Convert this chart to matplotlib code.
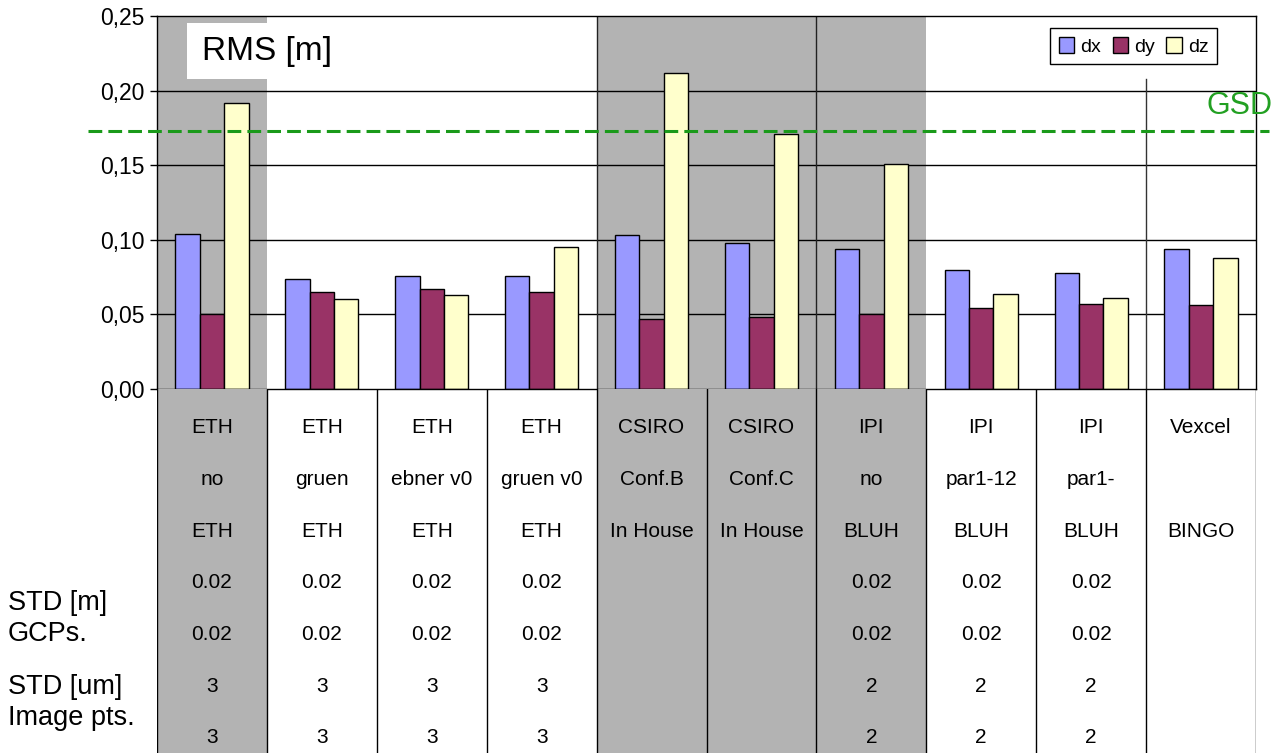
import numpy as np
import matplotlib.pyplot as plt
from matplotlib.ticker import FuncFormatter
from matplotlib.patches import Rectangle

plt.rcParams['font.family'] = ['Liberation Sans', 'DejaVu Sans']

# data
series = ['dx', 'dy', 'dz']
dx = [0.104, 0.074, 0.076, 0.076, 0.103, 0.098, 0.094, 0.080, 0.078, 0.094]
dy = [0.050, 0.065, 0.067, 0.065, 0.047, 0.048, 0.050, 0.054, 0.057, 0.056]
dz = [0.192, 0.060, 0.063, 0.095, 0.212, 0.171, 0.151, 0.064, 0.061, 0.088]
gsd = 0.173

row_who = ['ETH', 'ETH', 'ETH', 'ETH', 'CSIRO', 'CSIRO', 'IPI', 'IPI', 'IPI', 'Vexcel']
row_par = ['no', 'gruen', 'ebner v0', 'gruen v0', 'Conf.B', 'Conf.C', 'no', 'par1-12', 'par1-', '']
row_sw = ['ETH', 'ETH', 'ETH', 'ETH', 'In House', 'In House', 'BLUH', 'BLUH', 'BLUH', 'BINGO']
row_std_m = ['0.02', '0.02', '0.02', '0.02', '', '', '0.02', '0.02', '0.02', '']
row_std_um = ['3', '3', '3', '3', '', '', '2', '2', '2', '']
shaded = [0, 4, 5, 6]

colors = ['#9999FF', '#993366', '#FFFFCC']
grey = '#B3B3B3'

W, H = 1280, 753
fig = plt.figure(figsize=(12.8, 7.53), dpi=100)

x0, x1, ytop, ybot = 157, 1256, 16, 389
ax = fig.add_axes([x0 / W, 1 - ybot / H, (x1 - x0) / W, (ybot - ytop) / H])
tax = fig.add_axes([x0 / W, 0, (x1 - x0) / W, (H - ybot) / H])

n = len(dx)
xs = np.arange(n) + 0.5
bw = 0.222

# chart part
for g in shaded:
    ax.axvspan(g, g + 1, color=grey, lw=0, zorder=0)
for v in [0.05, 0.10, 0.15, 0.20]:
    ax.axhline(v, color='black', lw=1, zorder=1)
for b in [4, 6]:
    ax.axvline(b, color='#222222', lw=1, zorder=1)
ax.plot([9, 9], [0, 0.208], color='#333333', lw=1, zorder=1)

for i, (vals, c, lab) in enumerate(zip([dx, dy, dz], colors, series)):
    ax.bar(xs + (i - 1) * bw, vals, bw, color=c, edgecolor='black', lw=1, zorder=2, label=lab)

ax.set_xlim(0, n)
ax.set_ylim(0, 0.25)
ax.set_xticks([])
ax.set_yticks(np.arange(0, 0.26, 0.05))
ax.yaxis.set_major_formatter(FuncFormatter(lambda v, p: f'{v:.2f}'.replace('.', ',')))
ax.tick_params(axis='y', labelsize=16.5, length=5, width=1, pad=4)
for s in ax.spines.values():
    s.set_color('black')
    s.set_linewidth(1)

# RMS label box
ax.add_patch(Rectangle((0.27, 0.2078), 0.73, 0.0375, facecolor='white', edgecolor='none', zorder=3))
ax.text(0.41, 0.2265, 'RMS [m]', fontsize=24, va='center', ha='left', zorder=4)

# GSD line
ax.plot([-0.63, 10.12], [gsd, gsd], color='#1a9a1a', lw=2.2, ls=(0, (4.5, 2)), clip_on=False, zorder=5)
ax.text(10.15, gsd + 0.0068, 'GSD', color='#22a022', fontsize=22, ha='right', va='bottom', zorder=5)

leg = ax.legend(loc='upper left', bbox_to_anchor=(1050 / W, 1 - 28 / H), bbox_transform=fig.transFigure,
                ncol=3, fontsize=14, frameon=True, fancybox=False, framealpha=1, edgecolor='black',
                handlelength=0.8, handleheight=0.9, handletextpad=0.3, columnspacing=0.6,
                borderpad=0.45, borderaxespad=0)
leg.get_frame().set_linewidth(1)
leg.set_zorder(6)

# table part
for g in shaded:
    tax.axvspan(g, g + 1, color=grey, lw=0, zorder=0)
for b in range(n + 1):
    tax.axvline(b, color='black', lw=1, zorder=1)
tax.set_xlim(0, n)
tax.set_ylim(H, ybot)
tax.axis('off')

rows = [(row_who, 428), (row_par, 480), (row_sw, 532), (row_std_m, 583), (row_std_m, 635),
        (row_std_um, 687), (row_std_um, 738)]
for labels, yy in rows:
    for xc, t in zip(xs, labels):
        tax.text(xc, yy, t, fontsize=15, ha='center', va='center')

for t, yy in [('STD [m]', 603), ('GCPs.', 634), ('STD [um]', 687), ('Image pts.', 718)]:
    fig.text(8 / W, 1 - yy / H, t, fontsize=19.5, ha='left', va='center')

fig.savefig('out.png', dpi=100)
